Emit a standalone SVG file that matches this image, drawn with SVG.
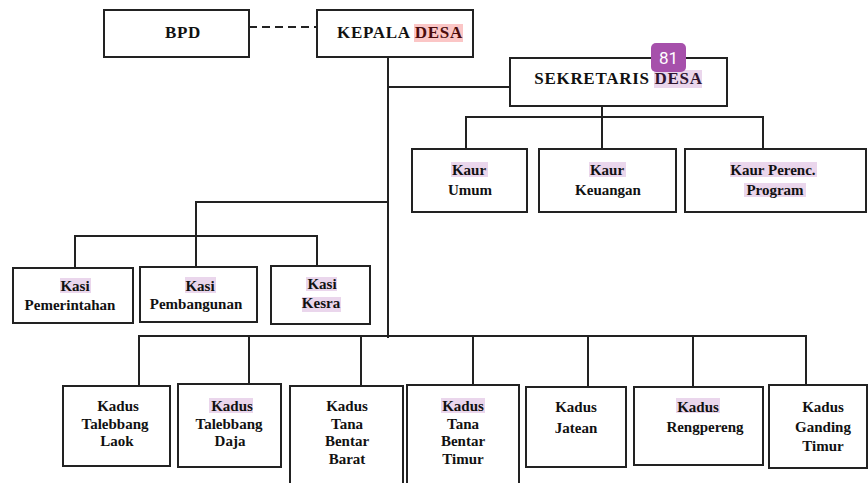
<svg xmlns="http://www.w3.org/2000/svg" width="868" height="483" viewBox="0 0 868 483">
<style>
.box{fill:#fff;stroke:#222;stroke-width:2}
.ln{fill:none;stroke:#222;stroke-width:2}
.t{font-family:"Liberation Serif","Times New Roman",serif;font-weight:bold;fill:#111;text-anchor:middle}
.big{font-size:17px;letter-spacing:0.7px}
.mid{font-size:15px}
.hp{fill:#ead6ec}
.hr{fill:#fbc6c6}
</style>
<rect width="868" height="483" fill="#fff"/>
<g id="connectors">
<line class="ln" x1="249" y1="27" x2="317" y2="27" stroke-dasharray="8,5"/>
<line class="ln" x1="388" y1="47" x2="388" y2="338"/>
<line class="ln" x1="388" y1="87" x2="510" y2="87"/>
<line class="ln" x1="602" y1="106" x2="602" y2="149"/>
<polyline class="ln" points="466,150 466,117 763,117 763,150"/>
<polyline class="ln" points="388,202 196,202 196,267"/>
<polyline class="ln" points="75,268 75,236 317,236 317,266"/>
<polyline class="ln" points="139,386 139,336 806,336 806,385"/>
<line class="ln" x1="249" y1="336" x2="249" y2="384"/>
<line class="ln" x1="361" y1="336" x2="361" y2="386"/>
<line class="ln" x1="473" y1="336" x2="473" y2="385"/>
<line class="ln" x1="588" y1="336" x2="588" y2="387"/>
<line class="ln" x1="693" y1="336" x2="693" y2="387"/>
</g>
<g id="bpd">
<rect class="box" x="104" y="10" width="145" height="47"/>
<text class="t big" x="183" y="38">BPD</text>
</g>
<g id="kepala-desa">
<rect class="box" x="317" y="10" width="156" height="47"/>
<rect class="hr" x="414" y="24" width="49" height="18"/>
<text class="t big" x="400" y="38">KEPALA <tspan fill="#4a0c0c">DESA</tspan></text>
</g>
<g id="sekretaris-desa">
<rect class="box" x="510" y="58" width="217" height="48"/>
<rect class="hp" x="654" y="70" width="48" height="18"/>
<text class="t big" x="618.5" y="83.5">SEKRETARIS <tspan fill="#2e1530">DESA</tspan></text>
</g>
<g id="badge-81">
<rect x="651" y="43" width="35" height="29" rx="5" fill="#a650ab"/>
<text x="668.5" y="64" font-family="Roboto,'Liberation Sans',sans-serif" font-size="17" fill="#fff" text-anchor="middle">81</text>
</g>
<g id="kaur-umum">
<rect class="box" x="412" y="149" width="115" height="63"/>
<rect class="hp" x="451" y="162" width="37" height="15"/>
<text class="t mid" x="469" y="175">Kaur</text>
<text class="t mid" x="470" y="195">Umum</text>
</g>
<g id="kaur-keuangan">
<rect class="box" x="539" y="149" width="137" height="63"/>
<rect class="hp" x="589" y="162" width="37" height="15"/>
<text class="t mid" x="607" y="175">Kaur</text>
<text class="t mid" x="608" y="195">Keuangan</text>
</g>
<g id="kaur-perenc">
<rect class="box" x="685" y="149" width="181" height="63"/>
<rect class="hp" x="730" y="162" width="87" height="15"/>
<rect class="hp" x="744" y="183" width="62" height="14"/>
<text class="t mid" x="773" y="175">Kaur Perenc.</text>
<text class="t mid" x="775" y="195">Program</text>
</g>
<g id="kasi-pemerintahan">
<rect class="box" x="13" y="268" width="120" height="55"/>
<rect class="hp" x="60" y="278" width="31" height="15"/>
<text class="t mid" x="75" y="291">Kasi</text>
<text class="t mid" x="70" y="310">Pemerintahan</text>
</g>
<g id="kasi-pembangunan">
<rect class="box" x="140" y="267" width="117" height="55"/>
<rect class="hp" x="185" y="277" width="31" height="16"/>
<text class="t mid" x="200" y="290.5">Kasi</text>
<text class="t mid" x="196" y="309">Pembangunan</text>
</g>
<g id="kasi-kesra">
<rect class="box" x="271" y="266" width="99" height="58"/>
<rect class="hp" x="306" y="277" width="31" height="14"/>
<rect class="hp" x="302" y="297" width="39" height="15"/>
<text class="t mid" x="322" y="289">Kasi</text>
<text class="t mid" x="321" y="308">Kesra</text>
</g>
<g id="kadus-talebbang-laok">
<rect class="box" x="63" y="386" width="107" height="80"/>
<text class="t mid" x="118" y="411">Kadus</text>
<text class="t mid" x="115" y="428.5">Talebbang</text>
<text class="t mid" x="117" y="446">Laok</text>
</g>
<g id="kadus-talebbang-daja">
<rect class="box" x="178" y="384" width="103" height="83"/>
<rect class="hp" x="209" y="398" width="44" height="15"/>
<text class="t mid" x="232" y="411">Kadus</text>
<text class="t mid" x="229" y="428.5">Talebbang</text>
<text class="t mid" x="230" y="446">Daja</text>
</g>
<g id="kadus-tana-bentar-barat">
<rect class="box" x="290" y="386" width="113" height="110"/>
<text class="t mid" x="347" y="411">Kadus</text>
<text class="t mid" x="347" y="428.5">Tana</text>
<text class="t mid" x="347" y="446">Bentar</text>
<text class="t mid" x="347" y="463.5">Barat</text>
</g>
<g id="kadus-tana-bentar-timur">
<rect class="box" x="407" y="385" width="112" height="110"/>
<rect class="hp" x="441" y="398" width="44" height="15"/>
<text class="t mid" x="463" y="411">Kadus</text>
<text class="t mid" x="463" y="428.5">Tana</text>
<text class="t mid" x="463" y="446">Bentar</text>
<text class="t mid" x="463" y="463.5">Timur</text>
</g>
<g id="kadus-jatean">
<rect class="box" x="526" y="387" width="100" height="80"/>
<text class="t mid" x="576" y="412">Kadus</text>
<text class="t mid" x="576" y="433">Jatean</text>
</g>
<g id="kadus-rengpereng">
<rect class="box" x="634" y="387" width="129" height="78"/>
<rect class="hp" x="676" y="398" width="44" height="15"/>
<text class="t mid" x="698" y="412">Kadus</text>
<text class="t mid" x="705" y="432">Rengpereng</text>
</g>
<g id="kadus-ganding-timur">
<rect class="box" x="769" y="385" width="98" height="83"/>
<text class="t mid" x="823" y="412">Kadus</text>
<text class="t mid" x="823" y="432">Ganding</text>
<text class="t mid" x="823" y="451">Timur</text>
</g>
</svg>
